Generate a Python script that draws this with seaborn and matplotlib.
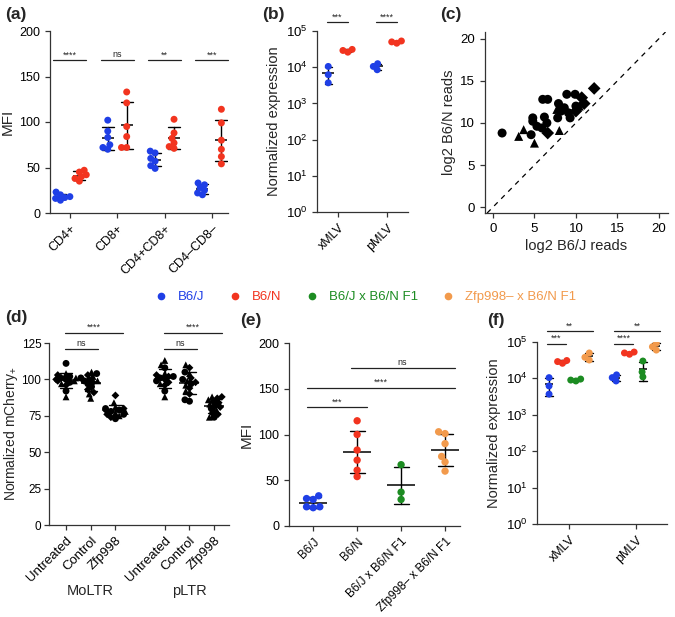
import warnings

import matplotlib.pyplot as plt
from matplotlib.lines import Line2D
from matplotlib.markers import MarkerStyle
from matplotlib.ticker import NullLocator
from matplotlib.transforms import Affine2D
import pandas as pd
import seaborn as sns

warnings.filterwarnings("ignore")

FIG_W, FIG_H = 675, 617

STRAINS = ["B6/J", "B6/N", "B6/J x B6/N F1", "Zfp998– x B6/N F1"]
STRAIN_COLORS = {
    "B6/J": "#1f3fe6",
    "B6/N": "#f2341f",
    "B6/J x B6/N F1": "#1c8c22",
    "Zfp998– x B6/N F1": "#f29a4c",
}

# (a) MFI per T-cell subset
A_SUBSETS = ["CD4+", "CD8+", "CD4+CD8+", "CD4–CD8–"]
A_B6J = [[14, 16, 17, 18, 20, 23], [102, 90, 83, 72, 70, 75], [68, 66, 60, 57, 52, 49], [33, 31, 28, 25, 22, 20]]
A_B6N = [[35, 38, 40, 42, 45, 47], [133, 121, 95, 84, 72, 72], [103, 88, 82, 77, 73, 71], [114, 99, 80, 70, 62, 54]]
A_SIG = ["****", "ns", "**", "***"]
A_SIG_Y = 168

# (b) / (f) normalized expression
VIRUSES = ["xMLV", "pMLV"]
EXP_B6J = [[10500, 6200, 3700], [8500, 10500, 12500]]
EXP_B6N = [[26000, 29000, 31000], [46000, 50000, 53000]]
EXP_F1 = [[8500, 9000, 9600], [30000, 15000, 11000]]
EXP_ZFP = [[50000, 38000, 32000], [92000, 74000, 60000]]
B_SIG = ["***", "****"]
B_SIG_Y = 10 ** 5.25
F_SIG = [(0, 0, 3, 10 ** 5.30, "**"), (0, 0, 1, 10 ** 4.95, "***"),
         (1, 0, 3, 10 ** 5.30, "**"), (1, 0, 1, 10 ** 4.95, "****")]

# (c) read counts
C_B6J = [1.1, 3.1, 3.7, 4.6, 5.0, 4.8, 4.8, 5.3, 5.9, 6.0, 6.6, 6.2, 6.5, 6.6, 8.0, 7.8, 7.7, 7.9,
         8.2, 8.6, 8.9, 9.1, 9.3, 9.9, 10.0, 10.0, 10.4, 10.7, 11.0, 12.2]
C_B6N = [8.8, 8.4, 9.2, 8.6, 7.6, 10.6, 10.2, 9.6, 9.4, 12.8, 12.8, 10.7, 10.0, 8.8, 9.1, 10.6, 11.6, 12.3,
         11.4, 11.8, 13.4, 11.2, 10.6, 13.4, 12.0, 11.4, 12.0, 13.0, 12.3, 14.1]
C_SHAPE = ["circle", "triangle", "triangle", "circle", "triangle", "circle", "circle", "circle", "circle",
           "circle", "circle", "circle", "circle", "diamond", "triangle", "circle", "triangle", "circle",
           "circle", "circle", "circle", "circle", "circle", "circle", "circle", "diamond", "triangle",
           "diamond", "diamond", "diamond"]

# (d) normalized mCherry+ (5 circles, 5 triangles, 5 diamonds per condition)
D_REPORTERS = ["MoLTR", "pLTR"]
D_CONDITIONS = ["Untreated", "Control", "Zfp998"]
D_MARKERS = ["o"] * 5 + ["^"] * 5 + ["D"] * 5
D_VALUES = [
    [[111, 100, 98, 92, 102, 88, 104, 101, 97, 99, 103, 100, 96, 99, 101],
     [101, 99, 97, 104, 95, 105, 87, 90, 102, 99, 93, 98, 100, 103, 91],
     [73, 78, 80, 76, 79, 84, 77, 75, 81, 78, 89, 79, 76, 80, 74]],
    [[108, 102, 92, 99, 101, 113, 110, 88, 104, 97, 100, 98, 103, 96, 102],
     [105, 85, 86, 100, 97, 110, 104, 96, 92, 99, 108, 101, 98, 94, 90],
     [74, 80, 85, 77, 82, 88, 86, 74, 83, 79, 87, 88, 81, 76, 84]],
]
D_SIG = [("****", 0, 2, 132), ("ns", 0, 1, 121)]

# (e) MFI per cross
E_MFI = [[33, 30, 29, 21, 21, 20], [115, 100, 83, 72, 61, 54], [67, 37, 29], [103, 101, 90, 76, 70, 60]]
E_SIG = [(1, 3, 173, "ns"), (0, 3, 151, "****"), (0, 1, 130, "***")]


def _px_rect(left, top, right, bottom):
    return [left / FIG_W, 1 - bottom / FIG_H, (right - left) / FIG_W, (bottom - top) / FIG_H]


def _long_frame(categories, groups):
    rows = []
    for strain, per_cat in groups.items():
        for cat, values in zip(categories, per_cat):
            rows += [{"cat": cat, "strain": strain, "value": v} for v in values]
    return pd.DataFrame(rows)


def _marker_path(marker, scale):
    style = MarkerStyle(marker)
    return style.get_path().transformed(style.get_transform() + Affine2D().scale(scale))


def _enlarge_swarm(collections, scale, markers_for=None):
    # The swarm is packed using the nominal size; drawing larger paths lets dots overlap like Prism.
    for coll in collections:
        if markers_for is None:
            coll.set_paths([_marker_path("o", scale)])
        else:
            coll.set_paths([_marker_path(m, scale * (0.8 if m == "D" else 1.0))
                            for m in markers_for(coll)])


def _sig_bar(ax, x0, x1, y, label, fontsize=6.5):
    ax.plot([x0, x1], [y, y], color="#222222", lw=0.9, clip_on=False)
    ax.annotate(label, ((x0 + x1) / 2, y), xytext=(0, 0.5), textcoords="offset points",
                ha="center", va="bottom", fontsize=fontsize, annotation_clip=False)


def _dots_with_mean_sd(ax, df, order, hue_order, dodge, size, bar_width, capsize, scale=1.4):
    n_before = len(ax.collections)
    sns.swarmplot(data=df, x="cat", y="value", order=order, hue="strain", hue_order=hue_order,
                  palette=STRAIN_COLORS, dodge=len(hue_order) > 1, size=size / scale, linewidth=0,
                  legend=False, ax=ax)
    _enlarge_swarm(ax.collections[n_before:], scale)
    sns.pointplot(data=df, x="cat", y="value", order=order, hue="strain", hue_order=hue_order,
                  palette={h: "black" for h in hue_order}, dodge=dodge, errorbar="sd",
                  capsize=capsize, linestyle="none", marker="_", markersize=bar_width,
                  markeredgewidth=1.1, err_kws={"linewidth": 1.0}, legend=False, ax=ax)


def _finish_cat_axis(ax, labels, xlim, fontsize=9):
    ax.set_xlim(*xlim)
    ax.set_xticks(range(len(labels)))
    ax.set_xticklabels(labels, rotation=45, ha="right", rotation_mode="anchor", fontsize=fontsize)
    ax.set_xlabel("")
    sns.despine(ax=ax)


def _log_axis(ax):
    ax.set_yscale("log")
    ax.set_ylim(1, 1e5)
    ax.set_yticks([10 ** k for k in range(6)])
    ax.yaxis.set_minor_locator(NullLocator())
    ax.tick_params(axis="y", labelsize=9.5)
    ax.set_ylabel("Normalized expression", fontsize=10.5)


def plot_a(fig):
    ax = fig.add_axes(_px_rect(50, 31, 228, 213))
    df = _long_frame(A_SUBSETS, {"B6/J": A_B6J, "B6/N": A_B6N})
    _dots_with_mean_sd(ax, df, A_SUBSETS, STRAINS[:2], 0.4, 5, 9, 0.25)
    ax.set_ylim(0, 200)
    ax.set_yticks(range(0, 201, 50))
    ax.set_ylabel("MFI", fontsize=11)
    _finish_cat_axis(ax, A_SUBSETS, (-0.42, 3.34))
    for i, label in enumerate(A_SIG):
        _sig_bar(ax, i - 0.35, i + 0.35, A_SIG_Y, label)


def plot_b(fig):
    ax = fig.add_axes(_px_rect(317, 31, 408, 212))
    df = _long_frame(VIRUSES, {"B6/J": EXP_B6J, "B6/N": EXP_B6N})
    _dots_with_mean_sd(ax, df, VIRUSES, STRAINS[:2], 0.4, 5, 8, 0.15)
    _log_axis(ax)
    _finish_cat_axis(ax, VIRUSES, (-0.43, 1.43))
    for i, label in enumerate(B_SIG):
        _sig_bar(ax, i - 0.22, i + 0.2, B_SIG_Y, label)


def plot_c(fig):
    ax = fig.add_axes(_px_rect(485, 32, 668, 213))
    df = pd.DataFrame({"b6j": C_B6J, "b6n": C_B6N, "shape": C_SHAPE})
    sns.scatterplot(data=df, x="b6j", y="b6n", style="shape",
                    markers={"circle": "o", "triangle": "^", "diamond": "D"},
                    color="black", s=42, linewidth=0, legend=False, ax=ax)
    ax.axline((0, 0), (1, 1), color="black", lw=0.9, ls=(0, (4, 4)))
    ax.set_xlim(-0.96, 21.1)
    ax.set_ylim(-0.7, 20.8)
    ax.set_xticks(range(0, 21, 5))
    ax.set_yticks(range(0, 21, 5))
    ax.tick_params(labelsize=9.5)
    ax.set_xlabel("log2 B6/J reads", fontsize=10.5)
    ax.set_ylabel("log2 B6/N reads", fontsize=10.5)
    sns.despine(ax=ax)


def plot_d(fig):
    ax = fig.add_axes(_px_rect(49, 343, 229, 525))
    rows = []
    for r, reporter in enumerate(D_REPORTERS):
        for c, condition in enumerate(D_CONDITIONS):
            for value, marker in zip(D_VALUES[r][c], D_MARKERS):
                rows.append({"pos": r * 4 + c, "value": value, "marker": marker})
    df = pd.DataFrame(rows)

    n_before = len(ax.collections)
    sns.swarmplot(data=df, x="pos", y="value", native_scale=True, color="black", size=3.3,
                  linewidth=0, ax=ax)
    _enlarge_swarm(ax.collections[n_before:], 1.5,
                   markers_for=lambda coll: df.loc[df["pos"] == round(coll.get_offsets()[0, 0]), "marker"])

    sns.pointplot(data=df, x="pos", y="value", native_scale=True, color="black", errorbar="sd",
                  capsize=0.5, linestyle="none", marker="_", markersize=14, markeredgewidth=1.1,
                  err_kws={"linewidth": 1.0}, ax=ax)
    ax.set_ylim(0, 125)
    ax.set_yticks(range(0, 126, 25))
    ax.tick_params(axis="y", labelsize=8.5, pad=2)
    ax.set_ylabel("Normalized mCherry$_{+}$", fontsize=10, labelpad=1)
    positions = sorted(df["pos"].unique())
    ax.set_xlim(-0.69, 6.6)
    ax.set_xticks(positions)
    ax.set_xticklabels(D_CONDITIONS * len(D_REPORTERS), rotation=45, ha="right",
                       rotation_mode="anchor", fontsize=9.5)
    ax.set_xlabel("")
    sns.despine(ax=ax)
    for r, reporter in enumerate(D_REPORTERS):
        ax.text(r * 4 + 1, -0.36, reporter, transform=ax.get_xaxis_transform(), ha="center",
                va="center", fontsize=10.5)
        for label, i, j, y in D_SIG:
            _sig_bar(ax, r * 4 + i - 0.05, r * 4 + j + 0.3, y, label)


def plot_e(fig):
    ax = fig.add_axes(_px_rect(289, 343, 460, 526))
    rows = [{"cat": s, "strain": s, "value": v} for s, values in zip(STRAINS, E_MFI) for v in values]
    df = pd.DataFrame(rows)
    n_before = len(ax.collections)
    sns.swarmplot(data=df, x="cat", y="value", order=STRAINS, hue="strain", hue_order=STRAINS,
                  palette=STRAIN_COLORS, size=4.6, linewidth=0, legend=False, ax=ax)
    _enlarge_swarm(ax.collections[n_before:], 1.15)
    sns.pointplot(data=df, x="cat", y="value", order=STRAINS, color="black", errorbar="sd",
                  capsize=0.34, linestyle="none", marker="_", markersize=20, markeredgewidth=1.1,
                  err_kws={"linewidth": 1.0}, ax=ax)
    ax.set_ylim(0, 200)
    ax.set_yticks(range(0, 201, 50))
    ax.set_ylabel("MFI", fontsize=11)
    _finish_cat_axis(ax, STRAINS, (-0.55, 3.34), fontsize=8.5)
    for i, j, y, label in E_SIG:
        _sig_bar(ax, i - 0.15, j + 0.22, y, label)


def plot_f(fig):
    ax = fig.add_axes(_px_rect(537, 342, 667, 524))
    df = _long_frame(VIRUSES, dict(zip(STRAINS, [EXP_B6J, EXP_B6N, EXP_F1, EXP_ZFP])))
    _dots_with_mean_sd(ax, df, VIRUSES, STRAINS, 0.6, 5, 6, 0.12)
    _log_axis(ax)
    _finish_cat_axis(ax, VIRUSES, (-0.48, 1.46))
    for v, i, j, y, label in F_SIG:
        _sig_bar(ax, v - 0.3 + 0.2 * i - 0.03, v - 0.3 + 0.2 * j + 0.05, y, label)


def main():
    sns.set_theme(style="ticks")
    plt.rcParams.update({
        "font.family": ["Liberation Sans", "DejaVu Sans"],
        "mathtext.fontset": "custom",
        "mathtext.rm": "Liberation Sans",
        "mathtext.it": "Liberation Sans:italic",
        "mathtext.bf": "Liberation Sans:bold",
        "axes.linewidth": 0.9,
        "axes.edgecolor": "#333333",
        "xtick.color": "#333333",
        "ytick.color": "#333333",
        "xtick.labelcolor": "black",
        "ytick.labelcolor": "black",
        "xtick.major.size": 3.5,
        "ytick.major.size": 3.5,
        "xtick.major.width": 0.9,
        "ytick.major.width": 0.9,
        "xtick.labelsize": 9,
        "ytick.labelsize": 9,
        "axes.labelpad": 3,
    })

    fig = plt.figure(figsize=(FIG_W / 100, FIG_H / 100), dpi=100)
    plot_a(fig)
    plot_b(fig)
    plot_c(fig)
    plot_d(fig)
    plot_e(fig)
    plot_f(fig)

    for label, x, y in [("(a)", 5, 14), ("(b)", 262, 14), ("(c)", 440, 14),
                        ("(d)", 5, 318), ("(e)", 240, 320), ("(f)", 487, 320)]:
        fig.text(x / FIG_W, 1 - y / FIG_H, label, fontsize=12.5, fontweight="bold", va="center")

    handles = [Line2D([0], [0], marker="o", ls="none", color=STRAIN_COLORS[s], markersize=4.5)
               for s in STRAINS]
    fig.legend(handles, STRAINS, loc="center", bbox_to_anchor=(362 / FIG_W, 1 - 297 / FIG_H),
               ncol=4, frameon=False, fontsize=9.5, handletextpad=0.3, columnspacing=1.3,
               labelcolor=[STRAIN_COLORS[s] for s in STRAINS])

    fig.savefig("out.png", dpi=100)
    plt.close(fig)


if __name__ == "__main__":
    main()
